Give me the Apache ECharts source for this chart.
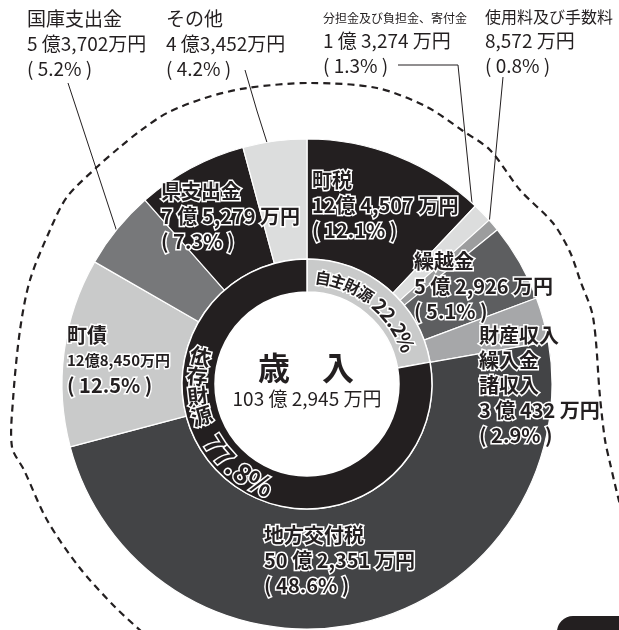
<!DOCTYPE html>
<html>
<head>
<meta charset="utf-8">
<script src="https://cdn.jsdelivr.net/npm/echarts@6.0.0/dist/echarts.min.js"></script>
<style>
  html, body { margin: 0; padding: 0; background: #fff; }
  #main { width: 619px; height: 630px; }
</style>
</head>
<body>
<div id="main"></div>
<script>
var FONT = '"Noto Sans CJK JP", "Noto Sans", sans-serif';
var INK = '#231f20';

// 歳入の内訳（万円）、12時から時計回り
var names = ['町税', '分担金及び負担金、寄付金', '使用料及び手数料', '繰越金', '財産収入\n繰入金\n諸収入',
  '地方交付税', '町債', '国庫支出金', '県支出金', 'その他'];
var values = [124507, 13274, 8572, 52926, 30432, 502351, 128450, 53702, 75279, 43452];
var amountLabels = ['12億 4,507 万円', '1 億 3,274 万円', '8,572 万円', '5 億 2,926 万円', '3 億 432 万円',
  '50 億 2,351 万円', '12億8,450万円', '5 億3,702万円', '7 億 5,279 万円', '4 億3,452万円'];
var pctLabels = ['12.1', '1.3', '0.8', '5.1', '2.9', '48.6', '12.5', '5.2', '7.3', '4.2'];

// 内側の輪（自主財源／依存財源、%）
var groupNames = ['自主財源', '依存財源'];
var groupValues = [22.2, 77.8];

var totalTitle = '歳　入';
var totalLabel = '103 億 2,945 万円';

// styles
var sliceColors = ['#231f20', '#dcdddd', '#9c9d9e', '#5d5e60', '#a6a7a9',
  '#434446', '#c9caca', '#77787a', '#231f20', '#dcdddd'];
var groupColors = ['#c9caca', '#231f20'];
var outside = [false, true, true, false, false, false, false, true, false, true];
var nameKey = ['n', 's', 'm', 'n', 'n', 'n', 'n', 'n', 'n', 'n'];
var amtKey = ['a', 'a', 'a', 'a', 'a', 'a', 'c', 'a', 'a', 'a'];

// geometry
var CX = 307, CY = 384;
var R_HOLE = 92, R_MID = 125, R_OUT = 245;

// label placement (top-left of each text block) and leader lines
var labelPos = [[312, 168], [323, 8], [485, 6], [414, 249], [479, 323],
  [264, 523], [67, 323], [27, 6], [161, 179], [166, 6]];
var leaderPts = {
  1: [[473, 213], [458, 65], [398, 65]],
  2: [[489, 225], [496, 151], [503, 77]],
  7: [[118, 235], [93, 159], [68, 83]],
  9: [[270, 152], [257, 111], [245, 70]]
};

// dashed guide curve
var dashPath = [[142, 632], [115, 607], [79, 567], [47, 520], [24, 470], [12, 447], [13, 400], [20, 330],
  [30, 280], [50, 230], [67, 197], [97, 167], [120, 147], [140, 131], [167, 113], [205, 98], [247, 88],
  [310, 83], [377, 88], [427, 107], [463, 131], [490, 150], [520, 190], [553, 223], [570, 252],
  [580, 280], [593, 317], [600, 397], [605, 440], [610, 463], [618, 497], [624, 520]];

function richSet(halo, pre, big) {
  var out = {};
  function s(size, lh) {
    var o = { fontSize: size, lineHeight: lh, color: INK, fontFamily: FONT };
    if (halo) { o.textBorderColor = '#fff'; o.textBorderWidth = 3; o.fontWeight = 'bold'; }
    return o;
  }
  out[pre + 'n'] = s(big, 25);
  out[pre + 'a'] = s(big, 25);
  out[pre + 'p'] = s(big, 25);
  out[pre + 's'] = s(12, 20);
  out[pre + 'm'] = s(16, 22);
  out[pre + 'c'] = s(15, 25);
  return out;
}
var rich = Object.assign({}, richSet(true, '', 20), richSet(false, 'o', 19));

var outerData = values.map(function (v, i) {
  var d = { name: names[i], value: v, itemStyle: { color: sliceColors[i] } };
  if (outside[i]) {
    d.label = { position: 'outside' };
    d.labelLine = { show: true };
  }
  return d;
});

var innerData = groupValues.map(function (v, i) {
  return { name: groupNames[i], value: v, itemStyle: { color: groupColors[i] } };
});

// curved text along the inner ring
function advOf(ch, fs) {
  if (/[0-9]/.test(ch)) return fs * 0.6;
  if (ch === '.') return fs * 0.32;
  if (ch === '%') return fs * 0.85;
  if (ch === ' ') return fs * 0.3;
  return fs * 0.95;
}
function arcText(pieces, startDeg, r, dir, mode) {
  var els = [];
  var s = 0;
  pieces.forEach(function (pc) {
    s += pc.gap || 0;
    pc.t.split('').forEach(function (ch) {
      var a = advOf(ch, pc.fs);
      var th = startDeg + dir * (s + a / 2) / r * 180 / Math.PI;
      s += a;
      if (ch === ' ') return;
      var rad = th * Math.PI / 180;
      var rot;
      if (mode === 'h') rot = -th;
      else rot = /[0-9.%]/.test(ch) ? 180 - th : 270 - th;
      els.push({
        type: 'text',
        x: CX + r * Math.sin(rad),
        y: CY - r * Math.cos(rad),
        rotation: rot * Math.PI / 180,
        z: 10,
        style: {
          text: ch, fill: INK, stroke: '#fff', lineWidth: 3, fontWeight: 'bold',
          fontSize: pc.fs, fontFamily: FONT, align: 'center', verticalAlign: 'middle'
        }
      });
    });
  });
  return els;
}

var graphics = []
  .concat(arcText([{ t: groupNames[0], fs: 16 }, { t: groupValues[0].toFixed(1) + '%', fs: 20, gap: 5 }], 4.6, 107, 1, 'h'))
  .concat(arcText([{ t: groupNames[1], fs: 21 }, { t: groupValues[1].toFixed(1) + '%', fs: 27, gap: 13 }], 289.6, 110, -1, 'v'))
  .concat([
    {
      type: 'text', x: CX - 1, y: 368, z: 10,
      style: { text: totalTitle, fill: INK, fontSize: 32, fontWeight: 'bold', fontFamily: FONT, align: 'center', verticalAlign: 'middle' }
    },
    {
      type: 'text', x: CX, y: 399, z: 10,
      style: { text: totalLabel, fill: INK, fontSize: 19, fontFamily: FONT, align: 'center', verticalAlign: 'middle' }
    },
    {
      type: 'polyline', z: 5, silent: true,
      shape: { points: dashPath, smooth: 0.3 },
      style: { fill: null, stroke: INK, lineWidth: 2.2, lineDash: [7, 5] }
    },
    {
      type: 'rect', z: 5,
      shape: { x: 557, y: 616, width: 80, height: 30, r: [16, 0, 0, 0] },
      style: { fill: INK }
    }
  ]);

var chart = echarts.init(document.getElementById('main'), null, { renderer: 'canvas' });
chart.setOption({
  backgroundColor: '#fff',
  animation: false,
  graphic: graphics,
  series: [
    {
      name: '歳入',
      type: 'pie',
      center: [CX, CY],
      radius: [R_MID, R_OUT],
      startAngle: 90,
      clockwise: true,
      avoidLabelOverlap: false,
      itemStyle: { borderColor: '#fff', borderWidth: 1.2 },
      label: {
        show: true,
        position: 'inside',
        formatter: function (p) {
          var i = p.dataIndex;
          var pre = outside[i] ? 'o' : '';
          var nm = names[i].split('\n').map(function (t) {
            return '{' + pre + nameKey[i] + '|' + t + '}';
          }).join('\n');
          return nm + '\n{' + pre + amtKey[i] + '|' + amountLabels[i] + '}\n{' + pre + 'p|( ' + pctLabels[i] + '% )}';
        },
        rich: rich
      },
      labelLine: { show: false, lineStyle: { color: INK, width: 1 } },
      labelLayout: function (p) {
        var pos = labelPos[p.dataIndex];
        var o = { x: pos[0], y: pos[1], align: 'left', verticalAlign: 'top' };
        if (leaderPts[p.dataIndex]) o.labelLinePoints = leaderPts[p.dataIndex];
        return o;
      },
      emphasis: { disabled: true },
      data: outerData
    },
    {
      name: '財源',
      type: 'pie',
      center: [CX, CY],
      radius: [R_HOLE, R_MID],
      startAngle: 90,
      clockwise: true,
      label: { show: false },
      labelLine: { show: false },
      itemStyle: { borderColor: '#fff', borderWidth: 1.5 },
      emphasis: { disabled: true },
      data: innerData
    }
  ]
});
</script>
</body>
</html>
